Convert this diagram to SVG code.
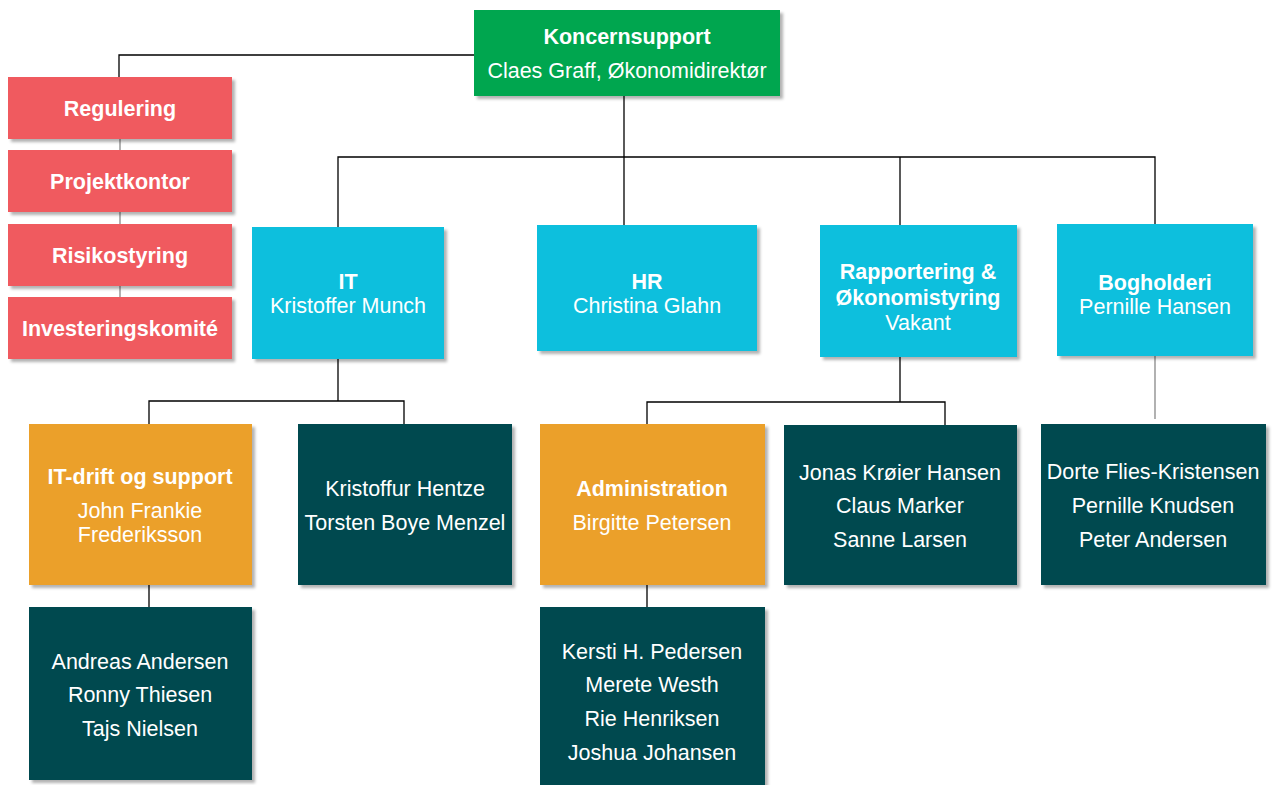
<svg xmlns="http://www.w3.org/2000/svg" width="1274" height="785" viewBox="0 0 1274 785">
<defs>
<filter id="sh" x="-5%" y="-5%" width="115%" height="115%">
<feDropShadow dx="3" dy="3" stdDeviation="1.5" flood-color="#000" flood-opacity="0.3"/>
</filter>
</defs>
<style>
.box{filter:url(#sh)}
.green{fill:#00A650}
.red{fill:#F05A5E}
.cyan{fill:#0EBFDD}
.orange{fill:#EBA02B}
.teal{fill:#02484F}
text{font-family:"Liberation Sans",Arial,sans-serif;font-size:21.5px;fill:#fff;text-anchor:middle}
.b{font-weight:bold}
.ln{stroke:#000;stroke-width:1.3;fill:none}
.lg{stroke:#888;stroke-width:1.3;fill:none}
</style>
<rect width="1274" height="785" fill="#fff"/>
<g id="connectors">
<polyline class="ln" points="474,55 119,55 119,77"/>
<line class="lg" x1="120" y1="139" x2="120" y2="297"/>
<line class="ln" x1="624" y1="96" x2="624" y2="225"/>
<polyline class="ln" points="338,227 338,157 1155,157 1155,224"/>
<line class="ln" x1="900" y1="157" x2="900" y2="225"/>
<line class="ln" x1="338" y1="359" x2="338" y2="401"/>
<polyline class="ln" points="149,424 149,401 404,401 404,424"/>
<line class="ln" x1="149" y1="585" x2="149" y2="607"/>
<line class="ln" x1="900" y1="357" x2="900" y2="402"/>
<polyline class="ln" points="647,424 647,402 945,402 945,425"/>
<line class="ln" x1="647" y1="585" x2="647" y2="607"/>
<line class="lg" x1="1155" y1="356" x2="1155" y2="419"/>
</g>
<g id="koncernsupport"><rect class="box green" x="474" y="10" width="306" height="86"/>
<text class="b" x="627" y="44">Koncernsupport</text><text x="627" y="78">Claes Graff, Økonomidirektør</text></g>
<g id="regulering"><rect class="box red" x="8" y="77" width="224" height="62"/><text class="b" x="120" y="116">Regulering</text></g>
<g id="projektkontor"><rect class="box red" x="8" y="150" width="224" height="62"/><text class="b" x="120" y="189">Projektkontor</text></g>
<g id="risikostyring"><rect class="box red" x="8" y="224" width="224" height="62"/><text class="b" x="120" y="263">Risikostyring</text></g>
<g id="investeringskomite"><rect class="box red" x="8" y="297" width="224" height="62"/><text class="b" x="120" y="336">Investeringskomité</text></g>
<g id="it"><rect class="box cyan" x="252" y="227" width="192" height="132"/>
<text class="b" x="348" y="289">IT</text><text x="348" y="313">Kristoffer Munch</text></g>
<g id="hr"><rect class="box cyan" x="537" y="225" width="220" height="126"/>
<text class="b" x="647" y="289">HR</text><text x="647" y="313">Christina Glahn</text></g>
<g id="rapportering"><rect class="box cyan" x="820" y="225" width="197" height="132"/>
<text class="b" x="918" y="279">Rapportering &amp;</text><text class="b" x="918" y="305">Økonomistyring</text><text x="918" y="330">Vakant</text></g>
<g id="bogholderi"><rect class="box cyan" x="1057" y="224" width="196" height="132"/>
<text class="b" x="1155" y="290">Bogholderi</text><text x="1155" y="314">Pernille Hansen</text></g>
<g id="itdrift"><rect class="box orange" x="29" y="424" width="223" height="161"/>
<text class="b" x="140" y="484">IT-drift og support</text><text x="140" y="518">John Frankie</text><text x="140" y="542">Frederiksson</text></g>
<g id="it-staff"><rect class="box teal" x="298" y="424" width="214" height="161"/>
<text x="405" y="496">Kristoffur Hentze</text><text x="405" y="530">Torsten Boye Menzel</text></g>
<g id="itdrift-staff"><rect class="box teal" x="29" y="607" width="223" height="173"/>
<text x="140" y="669">Andreas Andersen</text><text x="140" y="702">Ronny Thiesen</text><text x="140" y="736">Tajs Nielsen</text></g>
<g id="administration"><rect class="box orange" x="540" y="424" width="225" height="161"/>
<text class="b" x="652" y="496">Administration</text><text x="652" y="530">Birgitte Petersen</text></g>
<g id="rapportering-staff"><rect class="box teal" x="784" y="425" width="233" height="160"/>
<text x="900" y="480">Jonas Krøier Hansen</text><text x="900" y="513">Claus Marker</text><text x="900" y="547">Sanne Larsen</text></g>
<g id="bogholderi-staff"><rect class="box teal" x="1041" y="424" width="225" height="161"/>
<text x="1153" y="479">Dorte Flies-Kristensen</text><text x="1153" y="513">Pernille Knudsen</text><text x="1153" y="547">Peter Andersen</text></g>
<g id="administration-staff"><rect class="box teal" x="540" y="607" width="225" height="185"/>
<text x="652" y="659">Kersti H. Pedersen</text><text x="652" y="692">Merete Westh</text><text x="652" y="726">Rie Henriksen</text><text x="652" y="760">Joshua Johansen</text></g>
</svg>
